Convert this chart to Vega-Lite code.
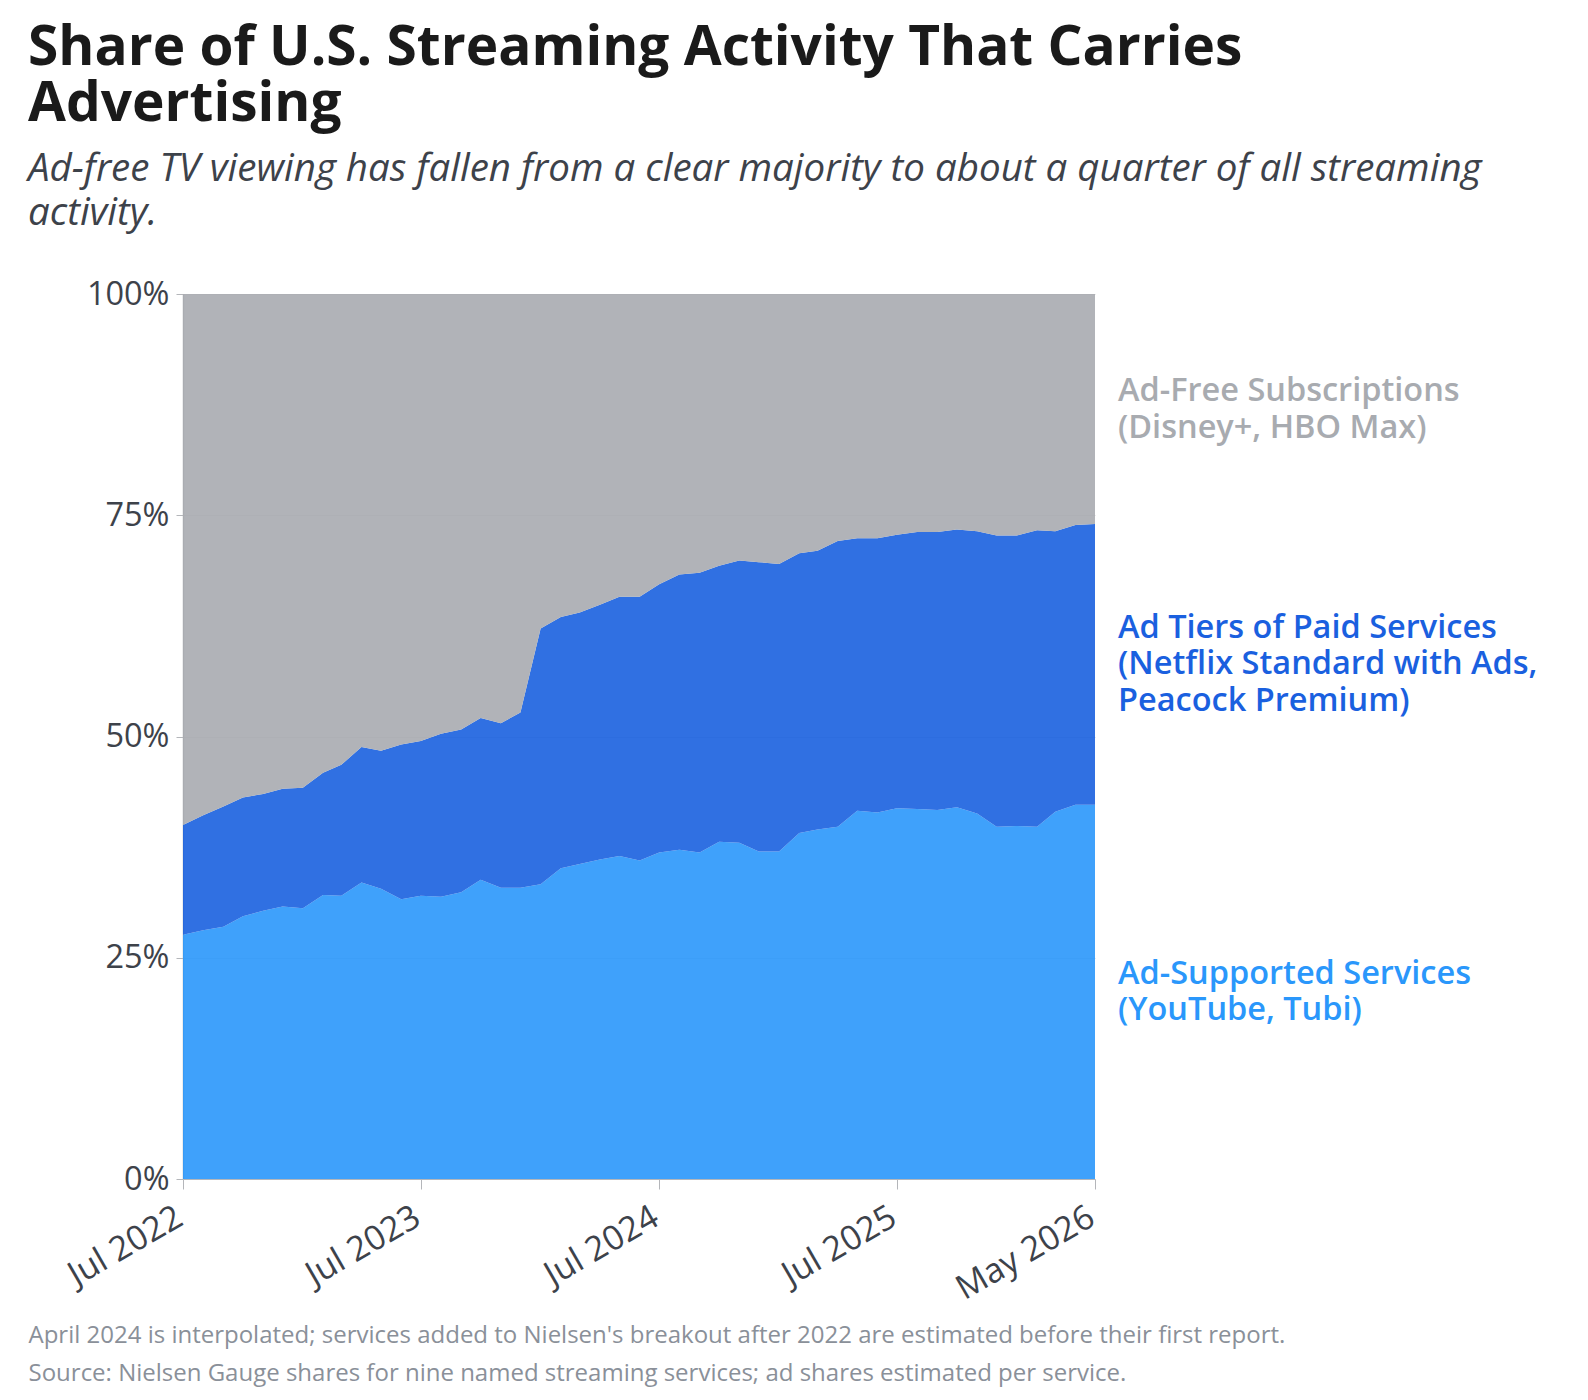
{
  "$schema": "https://vega.github.io/schema/vega-lite/v6.json",
  "description": "Share of U.S. streaming activity that carries advertising, monthly.",
  "width": 912,
  "height": 885,
  "autosize": {"type": "none"},
  "padding": {"left": 183, "top": 294, "right": 493, "bottom": 221},
  "background": "white",
  "config": {"view": {"stroke": null}},
  "title": {
    "text": ["Share of U.S. Streaming Activity That Carries", "Advertising"],
    "subtitle": ["Ad-free TV viewing has fallen from a clear majority to about a quarter of all streaming", "activity."],
    "anchor": "start",
    "frame": "group",
    "dx": -155,
    "offset": 45,
    "font": "Open Sans",
    "fontSize": 55,
    "fontWeight": "bold",
    "color": "#1a1a1a",
    "lineHeight": 56,
    "subtitleFont": "Open Sans",
    "subtitleFontSize": 38.5,
    "subtitleFontStyle": "italic",
    "subtitleColor": "#3d424a",
    "subtitleLineHeight": 44,
    "subtitlePadding": 18
  },
  "datasets": {
    "shares": [
      {"date": "2022-07-01", "supported": 27.6, "tiers": 12.4, "free": 60.0},
      {"date": "2022-08-01", "supported": 28.1, "tiers": 13.0, "free": 58.9},
      {"date": "2022-09-01", "supported": 28.5, "tiers": 13.6, "free": 57.9},
      {"date": "2022-10-01", "supported": 29.7, "tiers": 13.4, "free": 56.9},
      {"date": "2022-11-01", "supported": 30.3, "tiers": 13.2, "free": 56.5},
      {"date": "2022-12-01", "supported": 30.8, "tiers": 13.3, "free": 55.9},
      {"date": "2023-01-01", "supported": 30.6, "tiers": 13.6, "free": 55.8},
      {"date": "2023-02-01", "supported": 32.1, "tiers": 13.8, "free": 54.1},
      {"date": "2023-03-01", "supported": 32.0, "tiers": 14.8, "free": 53.2},
      {"date": "2023-04-01", "supported": 33.5, "tiers": 15.3, "free": 51.2},
      {"date": "2023-05-01", "supported": 32.8, "tiers": 15.6, "free": 51.6},
      {"date": "2023-06-01", "supported": 31.6, "tiers": 17.5, "free": 50.9},
      {"date": "2023-07-01", "supported": 32.0, "tiers": 17.5, "free": 50.5},
      {"date": "2023-08-01", "supported": 31.9, "tiers": 18.4, "free": 49.7},
      {"date": "2023-09-01", "supported": 32.4, "tiers": 18.4, "free": 49.2},
      {"date": "2023-10-01", "supported": 33.8, "tiers": 18.3, "free": 47.9},
      {"date": "2023-11-01", "supported": 32.9, "tiers": 18.6, "free": 48.5},
      {"date": "2023-12-01", "supported": 32.9, "tiers": 19.8, "free": 47.3},
      {"date": "2024-01-01", "supported": 33.3, "tiers": 28.9, "free": 37.8},
      {"date": "2024-02-01", "supported": 35.1, "tiers": 28.4, "free": 36.5},
      {"date": "2024-03-01", "supported": 35.6, "tiers": 28.4, "free": 36.0},
      {"date": "2024-04-01", "supported": 36.1, "tiers": 28.8, "free": 35.1},
      {"date": "2024-05-01", "supported": 36.5, "tiers": 29.3, "free": 34.2},
      {"date": "2024-06-01", "supported": 36.0, "tiers": 29.8, "free": 34.2},
      {"date": "2024-07-01", "supported": 36.9, "tiers": 30.3, "free": 32.8},
      {"date": "2024-08-01", "supported": 37.2, "tiers": 31.1, "free": 31.7},
      {"date": "2024-09-01", "supported": 36.9, "tiers": 31.6, "free": 31.5},
      {"date": "2024-10-01", "supported": 38.1, "tiers": 31.2, "free": 30.7},
      {"date": "2024-11-01", "supported": 38.0, "tiers": 31.9, "free": 30.1},
      {"date": "2024-12-01", "supported": 37.0, "tiers": 32.7, "free": 30.3},
      {"date": "2025-01-01", "supported": 37.0, "tiers": 32.5, "free": 30.5},
      {"date": "2025-02-01", "supported": 39.1, "tiers": 31.6, "free": 29.3},
      {"date": "2025-03-01", "supported": 39.5, "tiers": 31.5, "free": 29.0},
      {"date": "2025-04-01", "supported": 39.8, "tiers": 32.3, "free": 27.9},
      {"date": "2025-05-01", "supported": 41.6, "tiers": 30.8, "free": 27.6},
      {"date": "2025-06-01", "supported": 41.4, "tiers": 31.0, "free": 27.6},
      {"date": "2025-07-01", "supported": 41.9, "tiers": 30.9, "free": 27.2},
      {"date": "2025-08-01", "supported": 41.8, "tiers": 31.3, "free": 26.9},
      {"date": "2025-09-01", "supported": 41.7, "tiers": 31.4, "free": 26.9},
      {"date": "2025-10-01", "supported": 42.0, "tiers": 31.4, "free": 26.6},
      {"date": "2025-11-01", "supported": 41.3, "tiers": 31.9, "free": 26.8},
      {"date": "2025-12-01", "supported": 39.8, "tiers": 32.9, "free": 27.3},
      {"date": "2026-01-01", "supported": 39.9, "tiers": 32.8, "free": 27.3},
      {"date": "2026-02-01", "supported": 39.8, "tiers": 33.5, "free": 26.7},
      {"date": "2026-03-01", "supported": 41.5, "tiers": 31.7, "free": 26.8},
      {"date": "2026-04-01", "supported": 42.3, "tiers": 31.6, "free": 26.1},
      {"date": "2026-05-01", "supported": 42.3, "tiers": 31.7, "free": 26.0}
    ],
    "labels": [
      {"series": "supported", "label": "Ad-Supported Services\n(YouTube, Tubi)"},
      {"series": "tiers", "label": "Ad Tiers of Paid Services\n(Netflix Standard with Ads,\nPeacock Premium)"},
      {"series": "free", "label": "Ad-Free Subscriptions\n(Disney+, HBO Max)"}
    ]
  },
  "data": {"name": "shares"},
  "transform": [
    {"fold": ["supported", "tiers", "free"], "as": ["series", "share"]},
    {"calculate": "indexof(['supported', 'tiers', 'free'], datum.series)", "as": "rank"}
  ],
  "layer": [
    {
      "mark": {"type": "area", "opacity": 0.9, "interpolate": "linear"},
      "encoding": {
        "x": {
          "field": "date",
          "type": "temporal",
          "scale": {"type": "utc"},
          "axis": {
            "values": [
              {"year": 2022, "month": 7, "date": 1, "utc": true},
              {"year": 2023, "month": 7, "date": 1, "utc": true},
              {"year": 2024, "month": 7, "date": 1, "utc": true},
              {"year": 2025, "month": 7, "date": 1, "utc": true},
              {"year": 2026, "month": 5, "date": 1, "utc": true}
            ],
            "format": "%b %Y",
            "grid": false,
            "labelAngle": -30,
            "labelAlign": "right",
            "labelBaseline": "top",
            "labelFont": "Open Sans",
            "labelFontSize": 34,
            "labelColor": "#3d424a",
            "labelPadding": 11,
            "labelOffset": -12,
            "tickSize": 10,
            "tickColor": "#b4b6ba",
            "domainColor": "#b4b6ba",
            "title": [
              "April 2024 is interpolated; services added to Nielsen's breakout after 2022 are estimated before their first report.",
              "Source: Nielsen Gauge shares for nine named streaming services; ad shares estimated per service."
            ],
            "titleX": -155,
            "titleY": 163,
            "titleAlign": "left",
            "titleAnchor": "start",
            "titleAngle": 0,
            "titleBaseline": "alphabetic",
            "titleFont": "Open Sans",
            "titleFontSize": 24,
            "titleFontWeight": "normal",
            "titleColor": "#8a9099",
            "titleLineHeight": 38
          }
        },
        "y": {
          "field": "share",
          "type": "quantitative",
          "stack": "zero",
          "scale": {"domain": [0, 100], "nice": false},
          "axis": {
            "values": [0, 25, 50, 75, 100],
            "labelExpr": "datum.value + '%'",
            "title": null,
            "grid": true,
            "gridColor": "#d9d9d9",
            "labelFont": "Open Sans",
            "labelFontSize": 32.5,
            "labelColor": "#3d424a",
            "labelPadding": 7,
            "tickSize": 7,
            "tickColor": "#b4b6ba",
            "domainColor": "#b4b6ba",
            "domainWidth": 1.5
          }
        },
        "color": {
          "field": "series",
          "type": "nominal",
          "scale": {"domain": ["supported", "tiers", "free"], "range": ["#2a97fb", "#1a60df", "#a8abb0"]},
          "legend": null
        },
        "order": {"field": "rank", "type": "quantitative"}
      }
    },
    {
      "transform": [
        {"filter": "time(datum.date) == utc(2026, 4, 1)"},
        {"stack": "share", "groupby": ["date"], "sort": [{"field": "rank", "order": "ascending"}], "as": ["lo", "hi"]},
        {"calculate": "(datum.lo + datum.hi) / 2", "as": "mid"},
        {"lookup": "series", "from": {"data": {"name": "labels"}, "key": "series", "fields": ["label"]}}
      ],
      "encoding": {
        "x": {"field": "date", "type": "temporal"},
        "y": {"field": "mid", "type": "quantitative"},
        "text": {"field": "label"},
        "color": {"field": "series", "type": "nominal", "legend": null}
      },
      "layer": [
        {
          "transform": [{"filter": "datum.series != 'tiers'"}],
          "mark": {
            "type": "text",
            "align": "left",
            "baseline": "middle",
            "dx": 23,
            "dy": -18,
            "font": "Open Sans",
            "fontSize": 32.5,
            "fontWeight": 600,
            "lineHeight": 36.5,
            "lineBreak": "\n"
          }
        },
        {
          "transform": [{"filter": "datum.series == 'tiers'"}],
          "mark": {
            "type": "text",
            "align": "left",
            "baseline": "middle",
            "dx": 23,
            "dy": -36.5,
            "font": "Open Sans",
            "fontSize": 32.5,
            "fontWeight": 600,
            "lineHeight": 36.5,
            "lineBreak": "\n"
          }
        }
      ]
    }
  ]
}
